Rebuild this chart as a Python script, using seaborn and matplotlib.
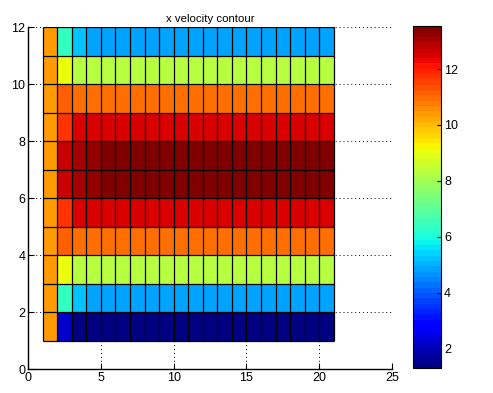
import numpy as np
import pandas as pd
import matplotlib
matplotlib.use("Agg")
import matplotlib.pyplot as plt
import seaborn as sns

# -----------------------------
# Data
# -----------------------------

# rows are y = 1..11 (bottom edge of each cell)
row_y = [1, 2, 3, 4, 5, 6, 7, 8, 9, 10, 11]

# x velocity in the first columns (bottom to top)
col_x1 = [10.4, 10.4, 10.4, 10.4, 10.4, 10.4, 10.4, 10.4, 10.4, 10.4, 10.4]
col_x2 = [2.2, 6.3, 9.0, 11.1, 11.8, 12.6, 12.6, 11.8, 11.1, 9.0, 6.3]
col_x3 = [1.5, 5.2, 8.3, 10.9, 12.4, 13.1, 13.1, 12.4, 10.9, 8.3, 5.2]
col_x4 = [1.45, 4.9, 8.2, 10.9, 12.5, 13.3, 13.3, 12.5, 10.9, 8.2, 4.9]

# developed profile, same for columns x = 5..20
developed_x = [5, 6, 7, 8, 9, 10, 11, 12, 13, 14, 15, 16, 17, 18, 19, 20]
developed_profile = [1.4, 4.9, 8.2, 10.9, 12.5, 13.4, 13.4, 12.5, 10.9, 8.2, 4.9]

# colour limits
c_min = 1.32
c_max = 13.54

x_ticks = [0, 5, 10, 15, 20, 25]
y_ticks = [0, 2, 4, 6, 8, 10, 12]
cbar_ticks = [2, 4, 6, 8, 10, 12]

# -----------------------------
# Build grid (cells outside the mesh stay empty)
# -----------------------------

grid = np.full((12, 25), np.nan)
columns = {1: col_x1, 2: col_x2, 3: col_x3, 4: col_x4}
for x in developed_x:
    columns[x] = developed_profile
for x, values in columns.items():
    for y, v in zip(row_y, values):
        grid[y, x] = v

df = pd.DataFrame(grid)

# mesh extent, used for the cell outlines
mesh_x = sorted(columns.keys())
x_edges = mesh_x + [mesh_x[-1] + 1]
y_edges = row_y + [row_y[-1] + 1]

# -----------------------------
# Plot
# -----------------------------

plt.rcParams["font.family"] = ["Liberation Sans", "DejaVu Sans"]

fig = plt.figure(figsize=(4.93, 3.93), dpi=100)
ax = fig.add_axes([0.057, 0.061, 0.738, 0.870])
cax = fig.add_axes([0.838, 0.064, 0.057, 0.870])

sns.heatmap(
    df,
    ax=ax,
    cbar_ax=cax,
    cmap=plt.get_cmap("jet", 64),
    vmin=c_min,
    vmax=c_max,
    linewidths=0,
    xticklabels=False,
    yticklabels=False,
)

# cell outlines like matlab pcolor
ax.vlines(x_edges, y_edges[0], y_edges[-1], color="black", linewidth=0.9, zorder=3)
ax.hlines(y_edges, x_edges[0], x_edges[-1], color="black", linewidth=0.9, zorder=3)

ax.set_xlim(0, 25)
ax.set_ylim(0, 12)
ax.set_xticks(x_ticks)
ax.set_xticklabels([str(t) for t in x_ticks])
ax.set_yticks(y_ticks)
ax.set_yticklabels([str(t) for t in y_ticks], rotation=0)
ax.tick_params(direction="in", length=4, labelsize=9, pad=2, color="black")
ax.set_axisbelow(True)
ax.grid(True, color="black", linestyle=(0, (1, 3)), linewidth=0.7)
for gl in ax.get_xgridlines() + ax.get_ygridlines():
    gl.set_zorder(0.5)

for side in ["left", "bottom"]:
    ax.spines[side].set_visible(True)
    ax.spines[side].set_color("black")
    ax.spines[side].set_linewidth(1)
for side in ["top", "right"]:
    ax.spines[side].set_visible(False)

ax.set_title("x velocity contour", fontsize=8.2, pad=4)

cbar = ax.collections[0].colorbar
cbar.set_ticks(cbar_ticks)
cbar.set_ticklabels([str(t) for t in cbar_ticks])
cbar.ax.tick_params(direction="in", length=3, labelsize=9, pad=2)
cbar.outline.set_visible(True)
cbar.outline.set_edgecolor("black")
cbar.outline.set_linewidth(0.8)

plt.savefig("out.png", dpi=100)
plt.close()
